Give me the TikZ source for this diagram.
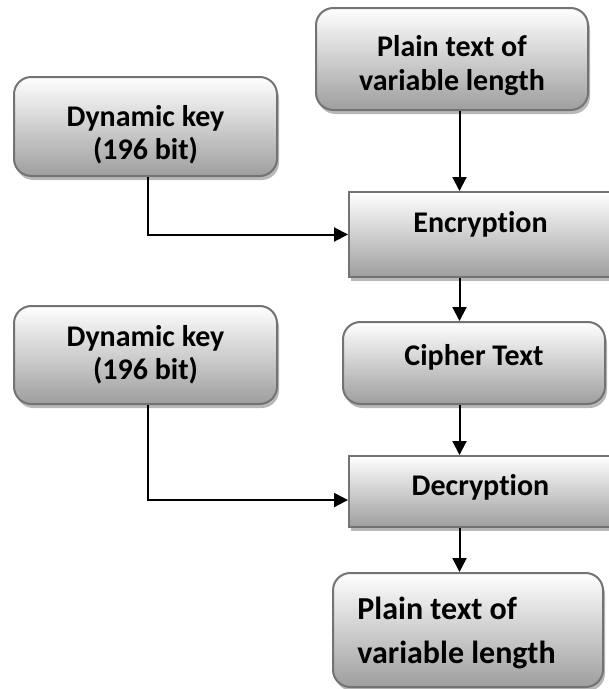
\documentclass[tikz,border=0pt]{standalone}
\usepackage{fontspec}
\setmainfont{Carlito}[Ligatures=NoCommon]
\usetikzlibrary{arrows.meta,shadows,calc,positioning}

\begin{document}
\begin{tikzpicture}[x=0.75pt, y=-0.75pt,
    font=\fontsize{22.5}{25}\selectfont\bfseries,
    box/.style={draw=black!55, line width=1.5pt, top color=white, bottom color=black!38,
      drop shadow={shadow xshift=1.5pt, shadow yshift=-3pt, fill=black!28, opacity=1}, inner sep=0pt},
    rbox/.style={box, rounded corners=13pt},
    txt/.style={align=center, inner sep=0pt},
    arr/.style={line width=1.5pt, -{Triangle[length=10.5pt,width=10.5pt]}}]
    \useasboundingbox (0,0) rectangle (608,689);

    % boxes
    \node[rbox, minimum width=204pt, minimum height=76.5pt, label={[txt,yshift=-4.9pt]center:Plain text of\\variable length}] (plainA) at (452,59) {};
    \node[rbox, minimum width=197.25pt, minimum height=74.25pt, label={[txt,yshift=-6pt]center:Dynamic key\\(196 bit)}] (keyA) at (145.5,126.5) {};
    \node[box, minimum width=197.25pt, minimum height=63.75pt, label={[txt,yshift=8pt]center:Encryption}] (enc) at (480.5,234.5) {};
    \node[rbox, minimum width=196.5pt, minimum height=61.5pt, label={[txt,yshift=4.5pt]center:Cipher Text}] (cipher) at (474,363) {};
    \node[rbox, minimum width=197.25pt, minimum height=73.5pt, label={[txt,yshift=0pt]center:Dynamic key\\(196 bit)}] (keyB) at (145.5,355) {};
    \node[box, minimum width=197.25pt, minimum height=53.25pt, label={[txt,yshift=3.4pt]center:Decryption}] (dec) at (480.5,491.5) {};
    \node[rbox, minimum width=202.5pt, minimum height=85.5pt, label={[txt,align=left,font=\fontsize{24}{33}\selectfont\bfseries,xshift=-8.6pt,yshift=-1.9pt]center:Plain text of\\variable length}] (plainB) at (468,630) {};

    \coordinate (spine) at (459.5,0);
    \coordinate (keystem) at (148,0);

    % arrows
    \draw[arr] (plainA.south -| spine) -- (enc.north -| spine);
    \draw[arr] (keyA.south -| keystem) |- (enc.west);
    \draw[arr] (enc.south -| spine) -- (cipher.north -| spine);
    \draw[arr] (cipher.south -| spine) -- (dec.north -| spine);
    \draw[arr] (keyB.south -| keystem) |- ([yshift=-6.4pt]dec.west);
    \draw[arr] (dec.south -| spine) -- (plainB.north -| spine);
\end{tikzpicture}
\end{document}
